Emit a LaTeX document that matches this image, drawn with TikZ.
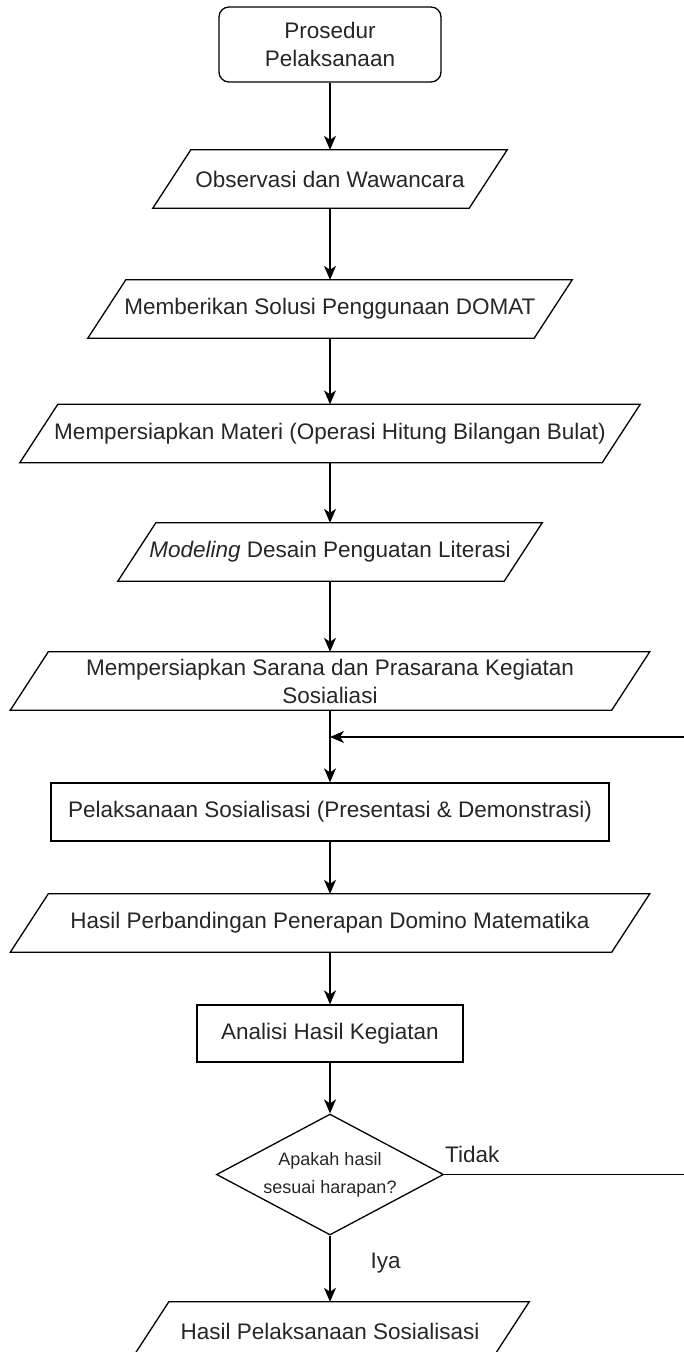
\documentclass[tikz,border=0pt]{standalone}
\usepackage{fontspec}
\setmainfont{Liberation Sans}
\usetikzlibrary{shapes.geometric,arrows.meta}

\begin{document}
\begin{tikzpicture}[x=1pt,y=-1pt,
  every node/.style={font=\fontsize{22.5}{28}\selectfont, text=black!85},
  proc/.style={draw, line width=1.3pt, minimum height=58pt, inner sep=0pt, align=center},
  start/.style={proc, rounded corners=10pt, minimum width=222pt, minimum height=75pt},
  io/.style={minimum height=58pt, inner sep=0pt, align=center},
  cond/.style={draw, diamond, line width=1.3pt, aspect=1.88, minimum width=227pt, minimum height=121pt, inner sep=0pt, align=center, font=\fontsize{18}{28}\selectfont},
  line/.style={line width=1.3pt, -{Stealth[length=14pt,width=12pt,inset=4pt]}},
  lbl/.style={inner sep=0pt}]

\useasboundingbox (0,0) rectangle (684,1352);
\clip (0,0) rectangle (684,1352);

\node[start] (s) at (330,44.5) {Prosedur\\Pelaksanaan};
\node[io, minimum width=316pt] (p1) at (330,179) {Observasi dan Wawancara};
\node[io, minimum width=446pt] (p2) at (330,309) {Memberikan Solusi Penggunaan DOMAT};
\node[io, minimum width=582pt] (p3) at (330,433.5) {Mempersiapkan Materi (Operasi Hitung Bilangan Bulat)};
\node[io, minimum width=386pt] (p4) at (330,552) {\textit{Modeling} Desain Penguatan Literasi};
\node[io, minimum width=601pt] (p5) at (330,681) {Mempersiapkan Sarana dan Prasarana Kegiatan\\Sosialiasi};
\coordinate (join) at (330,737);
\node[proc, minimum width=558pt] (r1) at (330,812) {Pelaksanaan Sosialisasi (Presentasi \& Demonstrasi)};
\node[io, minimum width=601pt] (p6) at (330,923) {Hasil Perbandingan Penerapan Domino Matematika};
\node[proc, minimum width=266pt, minimum height=57pt] (r2) at (330,1033.5) {Analisi Hasil Kegiatan};
\node[cond] (d) at (330,1174.5) {Apakah hasil\\sesuai harapan?};
\node[io, minimum width=360pt] (p7) at (330,1331) {Hasil Pelaksanaan Sosialisasi};
\coordinate (loop) at (700,1174.5);

% slanted data boxes
\foreach \n in {p1,p2,p3,p4,p5,p6,p7}
  \draw[line width=1.3pt] ([xshift=19pt]\n.north west) -- ([xshift=19pt]\n.north east)
    -- ([xshift=-19pt]\n.south east) -- ([xshift=-19pt]\n.south west) -- cycle;

\draw[line] (s) -- (p1);
\draw[line] (p1) -- (p2);
\draw[line] (p2) -- (p3);
\draw[line] (p3) -- (p4);
\draw[line] (p4) -- (p5);
\draw[line] (p5) -- (r1);
\draw[line] (r1) -- (p6);
\draw[line] (p6) -- (r2);
\draw[line] (r2) -- (d);
\draw[line] (d) -- node[lbl, pos=0.42, right, xshift=40pt] {Iya} (p7);
\draw[line] (d.east) -- node[lbl, pos=0.11, above, yshift=11pt] {Tidak} (loop) |- (join);
\end{tikzpicture}
\end{document}
